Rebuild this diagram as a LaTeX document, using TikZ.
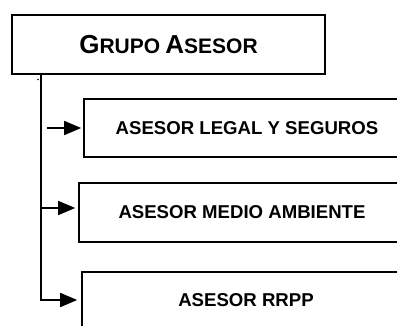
\documentclass[tikz,border=0pt]{standalone}
\usepackage{fontspec}
\setmainfont{Liberation Sans}
\usetikzlibrary{arrows.meta,positioning}

\newcommand{\capbig}[1]{{\fontsize{26}{30}\selectfont #1}}
\newcommand{\capsmall}[1]{{\fontsize{21}{25}\selectfont #1}}

\begin{document}
\begin{tikzpicture}[
  x=1pt, y=-1pt,
  box/.style={draw, rectangle, line width=1.6pt, inner sep=0pt, font=\bfseries\fontsize{18.6}{22}\selectfont},
  link/.style={draw, line width=1.6pt, -{Triangle[length=17pt,width=14pt]}}
]
\clip (0,0) rectangle (397,325);
\node[box, minimum width=313pt, minimum height=59pt] (grupo) at (168.5,44.5)
  {\capbig{G}\capsmall{RUPO} \capbig{A}\capsmall{SESOR}};
\node[box, minimum width=326pt, minimum height=58pt] (legal) at (247,128) {ASESOR LEGAL Y SEGUROS};
\node[box, minimum width=326pt, minimum height=59pt] (medio) at (242,212.5) {ASESOR MEDIO AMBIENTE};
\node[box, minimum width=328pt, minimum height=56pt] (rrpp) at (246,300) {ASESOR RRPP};
% trunk and branches
\coordinate (trunk) at ([xshift=30pt]grupo.south west);
\coordinate (a1) at (47,128);
\coordinate (a2) at (42,208);
\draw[link, shorten >=4pt] (trunk) |- (rrpp.west);
\draw[link, shorten >=2pt] (a1) -- (a1 -| legal.west);
\draw[link, shorten >=3pt] (a2) -- (a2 -| medio.west);
\fill (38,79.5) circle (0.9pt);
\end{tikzpicture}
\end{document}
